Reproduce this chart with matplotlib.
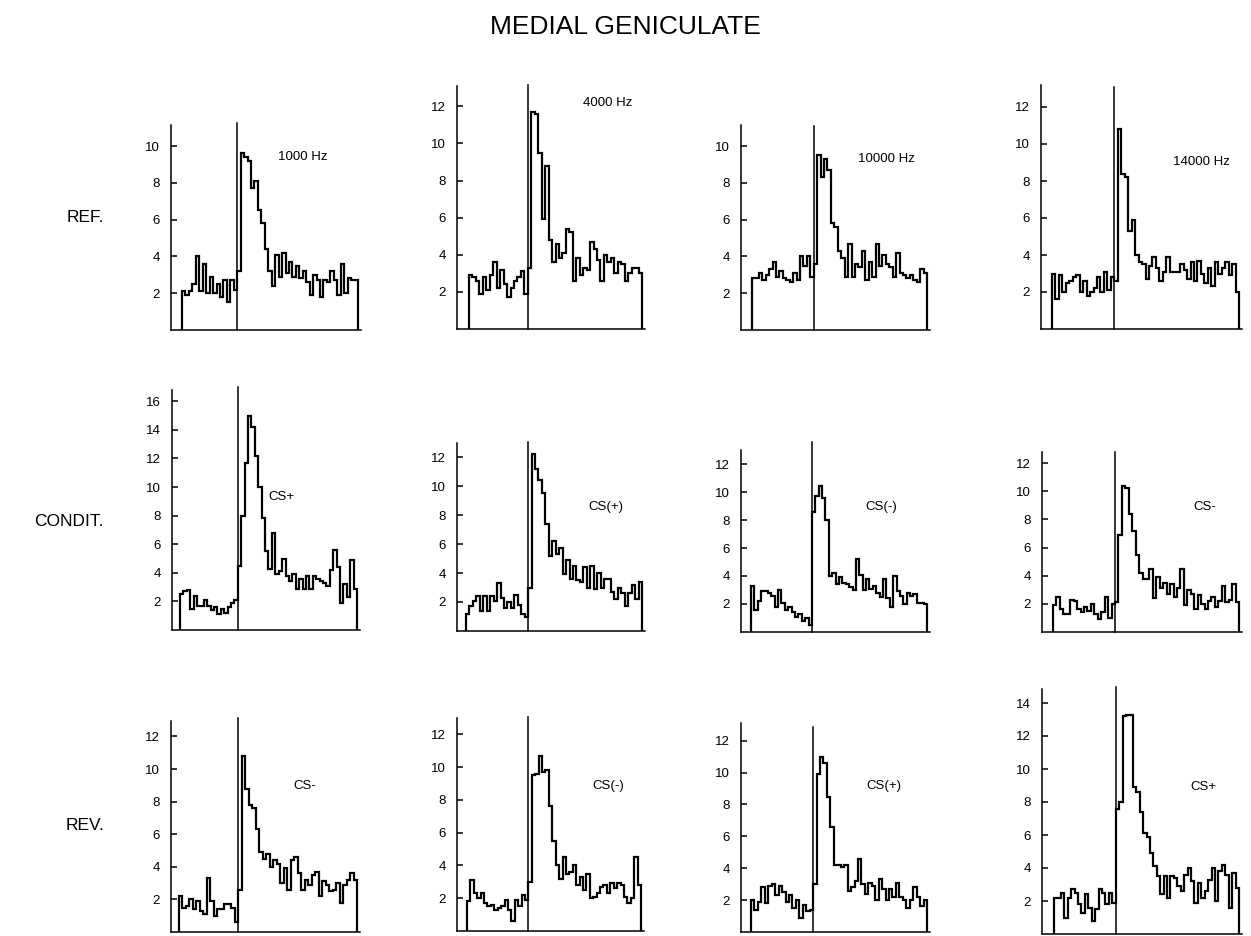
import matplotlib.pyplot as plt
import numpy as np

plt.rcParams['font.family'] = ['Liberation Sans', 'DejaVu Sans']

W, H = 1251, 936

title = 'MEDIAL GENICULATE'
row_names = ['REF.', 'CONDIT.', 'REV.']
panel_labels = [['1000 Hz', '4000 Hz', '10000 Hz', '14000 Hz'],
                ['CS+', 'CS(+)', 'CS(-)', 'CS-'],
                ['CS-', 'CS(-)', 'CS(+)', 'CS+']]

# spike rate per bin, before and after stimulus onset
ref_1000_pre = [2.1, 1.9, 2.1, 2.5, 4.0, 2.1, 3.6, 2.0, 2.9, 2.0, 2.5, 1.8, 2.7, 1.5, 2.7, 2.2]
ref_1000_post = [3.2, 9.6, 9.4, 9.2, 7.7, 8.1, 6.5, 5.8, 4.4, 3.2, 2.4, 4.1, 2.9, 4.2, 3.1, 3.7, 2.9, 3.5,
                 2.8, 3.2, 2.6, 1.9, 3.0, 2.7, 1.8, 2.7, 2.6, 3.2, 2.7, 1.9, 3.6, 2.0, 2.8, 2.7, 2.7]
ref_4000_pre = [2.9, 2.8, 2.6, 1.9, 2.8, 2.1, 2.9, 3.6, 2.2, 3.2, 2.4, 1.7, 2.2, 2.6, 2.8, 3.1, 1.9]
ref_4000_post = [3.3, 11.7, 11.6, 9.5, 5.9, 8.8, 4.8, 3.6, 4.6, 3.8, 4.1, 5.4, 5.2, 2.6, 3.8, 2.9, 3.3,
                 3.2, 4.7, 4.3, 3.7, 2.6, 4.0, 3.6, 3.8, 3.0, 3.6, 3.5, 2.6, 3.0, 3.3, 3.3, 3.0]
ref_10000_pre = [2.8, 2.8, 3.1, 2.7, 3.0, 3.3, 3.7, 2.9, 3.2, 2.8, 2.7, 2.6, 3.1, 2.7, 4.0, 3.5, 4.0, 2.9]
ref_10000_post = [3.6, 9.5, 8.3, 9.3, 8.7, 5.8, 5.6, 4.3, 3.9, 2.9, 4.7, 2.9, 3.6, 3.4, 4.3, 2.7, 3.7,
                  2.9, 4.7, 3.5, 4.1, 3.6, 3.4, 2.9, 4.2, 3.1, 3.0, 2.8, 3.0, 2.7, 2.6, 3.3, 3.1]
ref_14000_pre = [3.0, 1.6, 2.9, 2.0, 2.5, 2.6, 2.8, 2.9, 2.0, 2.6, 1.8, 2.0, 2.2, 2.8, 2.0, 3.1, 2.1, 2.8]
ref_14000_post = [2.6, 10.8, 8.4, 8.2, 5.3, 5.9, 4.0, 3.6, 3.5, 2.7, 3.4, 3.9, 3.3, 2.6, 3.1, 3.9, 3.1,
                  3.1, 3.1, 3.5, 3.2, 2.7, 3.6, 2.6, 3.7, 3.0, 2.5, 3.3, 2.3, 3.6, 3.0, 3.3, 3.6, 2.9, 3.5, 2.0]

cond_1_pre = [2.5, 2.7, 2.8, 1.5, 2.4, 1.7, 1.7, 2.1, 1.7, 1.4, 1.6, 1.1, 1.5, 1.2, 1.6, 1.9, 2.1]
cond_1_post = [4.5, 8.0, 11.7, 15.0, 14.2, 12.2, 10.0, 7.8, 5.5, 4.3, 6.8, 3.9, 4.1, 5.0, 3.8, 3.4, 3.9,
               2.9, 3.6, 2.9, 3.8, 2.9, 3.8, 3.6, 3.4, 3.3, 3.1, 4.2, 5.6, 4.4, 1.9, 3.2, 2.3, 4.9, 2.9]
cond_2_pre = [1.2, 1.7, 2.1, 2.4, 1.4, 2.4, 1.4, 2.4, 2.1, 3.3, 2.3, 1.6, 2.0, 1.6, 2.5, 1.8, 1.2, 1.0]
cond_2_post = [3.0, 12.2, 11.2, 10.4, 9.5, 7.4, 5.2, 6.2, 5.3, 5.7, 3.9, 4.9, 3.6, 4.5, 3.5, 3.4, 4.4,
               3.0, 4.5, 2.9, 4.0, 3.0, 3.6, 3.6, 2.7, 2.2, 3.0, 2.6, 1.7, 2.6, 3.2, 2.2, 3.4]
cond_3_pre = [3.3, 1.6, 2.2, 2.9, 2.9, 2.8, 2.6, 1.8, 3.0, 2.1, 1.6, 1.8, 1.4, 1.1, 1.3, 0.8, 1.0, 0.5]
cond_3_post = [8.6, 9.7, 10.4, 9.6, 8.0, 4.0, 4.2, 3.4, 3.9, 3.5, 3.4, 3.2, 3.0, 5.2, 4.1, 3.0, 3.8,
               3.1, 3.3, 2.8, 2.5, 3.8, 2.4, 1.8, 4.0, 2.9, 2.6, 2.0, 2.8, 2.6, 2.7, 2.1, 2.1, 2.0]
cond_4_pre = [1.9, 2.5, 1.6, 1.3, 1.3, 2.3, 2.2, 1.6, 1.4, 1.8, 1.5, 2.0, 1.3, 0.9, 1.4, 2.5, 1.0, 2.0]
cond_4_post = [2.1, 6.9, 10.4, 10.2, 8.4, 7.2, 5.5, 4.2, 3.8, 3.8, 4.5, 2.4, 3.9, 3.1, 3.5, 2.7, 3.4,
               2.5, 3.1, 4.5, 1.9, 3.0, 2.7, 1.6, 2.6, 2.0, 1.6, 2.2, 2.5, 1.8, 2.2, 3.3, 2.1, 2.3, 3.4, 2.1]

rev_1_pre = [2.2, 1.5, 1.6, 2.0, 1.4, 1.9, 1.3, 1.1, 3.3, 1.9, 1.0, 1.4, 1.4, 1.7, 1.7, 1.5, 0.6]
rev_1_post = [2.6, 10.8, 8.8, 7.8, 7.6, 6.3, 4.9, 4.5, 4.8, 4.0, 4.4, 4.2, 3.0, 3.9, 2.6, 4.4, 4.6,
              3.6, 2.6, 3.2, 2.9, 3.5, 3.7, 2.2, 3.1, 2.9, 2.5, 2.6, 3.0, 1.8, 2.9, 3.2, 3.6, 3.2]
rev_2_pre = [1.8, 3.1, 2.3, 2.0, 2.3, 1.7, 1.5, 1.6, 1.3, 1.4, 1.5, 1.9, 1.3, 0.6, 1.9, 1.5, 2.2, 1.9]
rev_2_post = [3.0, 9.5, 9.6, 10.7, 9.7, 9.8, 7.6, 5.5, 4.0, 3.2, 4.5, 3.5, 3.6, 4.0, 2.8, 3.3, 2.5,
              3.5, 2.0, 2.1, 2.3, 2.7, 2.8, 2.3, 2.9, 2.6, 2.9, 2.8, 2.1, 1.7, 2.0, 4.5, 2.8]
rev_3_pre = [2.0, 1.4, 1.9, 2.8, 1.8, 2.9, 3.0, 2.3, 2.9, 2.5, 1.9, 2.3, 1.5, 2.0, 0.9, 1.7, 1.3, 1.4]
rev_3_post = [3.0, 9.9, 11.0, 10.6, 8.5, 6.6, 4.2, 4.2, 4.1, 4.2, 2.6, 2.8, 3.2, 4.6, 3.0, 2.4, 3.1,
              2.9, 2.0, 3.3, 2.7, 2.0, 2.7, 2.2, 3.1, 2.2, 2.0, 1.5, 2.0, 2.8, 2.2, 1.6, 2.0]
rev_4_pre = [2.2, 2.2, 2.5, 1.0, 2.2, 2.7, 2.5, 1.8, 1.3, 2.4, 1.6, 0.8, 1.5, 2.7, 2.5, 1.8, 2.5, 1.9]
rev_4_post = [7.6, 8.0, 13.2, 13.3, 13.3, 8.9, 8.6, 7.4, 6.1, 5.9, 4.9, 4.1, 3.5, 2.4, 3.5, 2.2, 3.5,
              3.4, 2.9, 2.6, 3.6, 4.0, 3.2, 1.9, 3.1, 2.2, 2.6, 3.3, 4.0, 2.0, 3.8, 4.2, 3.6, 1.6, 3.7, 2.8]

pre = [[ref_1000_pre, ref_4000_pre, ref_10000_pre, ref_14000_pre],
       [cond_1_pre, cond_2_pre, cond_3_pre, cond_4_pre],
       [rev_1_pre, rev_2_pre, rev_3_pre, rev_4_pre]]
post = [[ref_1000_post, ref_4000_post, ref_10000_post, ref_14000_post],
        [cond_1_post, cond_2_post, cond_3_post, cond_4_post],
        [rev_1_post, rev_2_post, rev_3_post, rev_4_post]]

# layout in pixels: spine x, hist start x, hist end x, baseline y, onset line top y, spine top y, px per unit
layout = [[(171, 182, 358, 330, 123, 125, 18.4), (457, 469, 642, 329, 85, 86, 18.56),
           (741, 752, 927, 330, 126, 125, 18.4), (1041, 1052, 1239, 329, 87, 85, 18.5)],
          [(172, 180, 357, 630, 387, 390, 14.3), (457, 466, 642, 631, 442, 443, 14.5),
           (741, 751, 927, 632, 442, 450, 14.0), (1042, 1053, 1239, 632, 452, 452, 14.07)],
          [(171, 179, 357, 932, 718, 721, 16.3), (457, 467, 641, 931, 717, 718, 16.4),
           (741, 751, 927, 932, 727, 723, 15.94), (1042, 1054, 1239, 934, 687, 689, 16.5)]]
label_pos = [[(278, 157), (583, 103), (858, 159), (1173, 162)],
             [(268, 497), (588, 507), (865, 507), (1193, 507)],
             [(293, 786), (592, 786), (866, 786), (1190, 787)]]
row_y = [218, 522, 826]

fig = plt.figure(figsize=(W / 100, H / 100), dpi=100)
fig.text(625 / W, 1 - 27 / H, title, ha='center', va='center', fontsize=19)

for r in range(3):
    fig.text(104 / W, 1 - row_y[r] / H, row_names[r], ha='right', va='center', fontsize=12.5)
    for c in range(4):
        sx, hs, ex, by, ty, ly, pxu = layout[r][c]
        vals = np.r_[pre[r][c], post[r][c]]
        npre, npost = len(pre[r][c]), len(post[r][c])
        bw = (ex - hs) / (npre + npost)
        top = min(ty, ly)
        ax = fig.add_axes([sx / W, 1 - by / H, (ex + 3 - sx) / W, (by - top) / H])
        ax.set_xlim(-npre - (hs - sx) / bw, npost + 3 / bw)
        ax.set_ylim(0, (by - top) / pxu)
        ax.stairs(vals, np.arange(-npre, npost + 1), baseline=0, color='black', lw=1.6, clip_on=False)
        ax.plot([0, 0], [0, (by - ty) / pxu], color='black', lw=1.1, clip_on=False)
        for s in ['top', 'right']:
            ax.spines[s].set_visible(False)
        ax.spines['left'].set_bounds(0, (by - ly) / pxu)
        ax.spines['left'].set_linewidth(1.1)
        ax.spines['bottom'].set_linewidth(1.1)
        ymax = int((by - ly) / pxu) // 2 * 2
        ax.set_yticks(range(2, ymax + 1, 2))
        ax.set_xticks([])
        ax.tick_params(axis='y', direction='in', length=4, width=1.1, pad=8, labelsize=9.5)
        ax.patch.set_visible(False)
        lx, lyy = label_pos[r][c]
        fig.text(lx / W, 1 - lyy / H, panel_labels[r][c], ha='left', va='center', fontsize=9.5)

fig.savefig('out.png', dpi=100)
